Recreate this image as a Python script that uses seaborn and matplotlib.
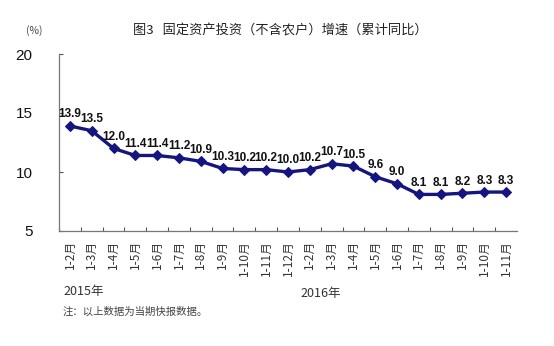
import matplotlib
matplotlib.use("Agg")
import matplotlib.pyplot as plt
import seaborn as sns
import pandas as pd

months = ["1-2月", "1-3月", "1-4月", "1-5月", "1-6月", "1-7月", "1-8月", "1-9月", "1-10月", "1-11月", "1-12月",
          "1-2月", "1-3月", "1-4月", "1-5月", "1-6月", "1-7月", "1-8月", "1-9月", "1-10月", "1-11月"]
growth = [13.9, 13.5, 12.0, 11.4, 11.4, 11.2, 10.9, 10.3, 10.2, 10.2, 10.0,
          10.2, 10.7, 10.5, 9.6, 9.0, 8.1, 8.1, 8.2, 8.3, 8.3]
y_ticks = [5, 10, 15, 20]

sns.set_theme(style="white")
plt.rcParams["font.family"] = ["Noto Sans CJK SC", "DejaVu Sans"]

df = pd.DataFrame({"pos": range(len(growth)), "growth": growth})

fig = plt.figure(figsize=(5.54, 3.46), dpi=100)
ax = fig.add_axes([59 / 554, 1 - 231 / 346, (517 - 59) / 554, (231 - 54) / 346])

line_color = "#151580"
sns.lineplot(data=df, x="pos", y="growth", ax=ax, color=line_color, linewidth=2.4,
             marker="D", markersize=5, markeredgecolor=line_color)

for i, v in enumerate(growth):
    ax.annotate(f"{v:.1f}", (i, v), xytext=(0, 4), textcoords="offset points",
                ha="center", va="bottom", fontsize=8.5, fontweight="bold",
                family=["Liberation Sans", "DejaVu Sans"], color="#111111")

ax.set_xlim(-0.5, len(growth) - 0.5)
ax.set_ylim(5, 20)
ax.set_yticks(y_ticks)
ax.set_yticklabels([str(t) for t in y_ticks], fontsize=11,
                   family=["Liberation Sans", "DejaVu Sans"])
ax.set_xticks([i + 0.5 for i in range(len(growth) - 1)] + [-0.5])
ax.set_xticklabels([])
ax.tick_params(axis="both", direction="in", length=3, width=0.8, colors="#555555",
               labelcolor="#111111", bottom=True, left=True)
ax.tick_params(axis="y", pad=19)
ax.set_xlabel("")
ax.set_ylabel("")
for side in ["top", "right"]:
    ax.spines[side].set_visible(False)
for side in ["left", "bottom"]:
    ax.spines[side].set_color("#777777")
    ax.spines[side].set_linewidth(0.9)

for i, lab in enumerate(months):
    ax.text(i, -0.05, lab, transform=ax.get_xaxis_transform(), rotation=90,
            ha="center", va="top", fontsize=8.5, color="#333333")

fig.text(63 / 554, 1 - 291 / 346, "2015年", fontsize=9, color="#333333", va="center")
fig.text(300 / 554, 1 - 293 / 346, "2016年", fontsize=9, color="#333333", va="center")
fig.text(63 / 554, 1 - 312 / 346, "注：以上数据为当期快报数据。", fontsize=7.5, color="#444444", va="center")
fig.text(34 / 554, 1 - 31 / 346, "(%)", fontsize=7.5, color="#444444", va="center", ha="center")
fig.text(280 / 554, 1 - 31 / 346, "图3   固定资产投资（不含农户）增速（累计同比）", fontsize=9.5,
         color="#222222", va="center", ha="center")

fig.savefig("out.png", dpi=100, facecolor="white")
